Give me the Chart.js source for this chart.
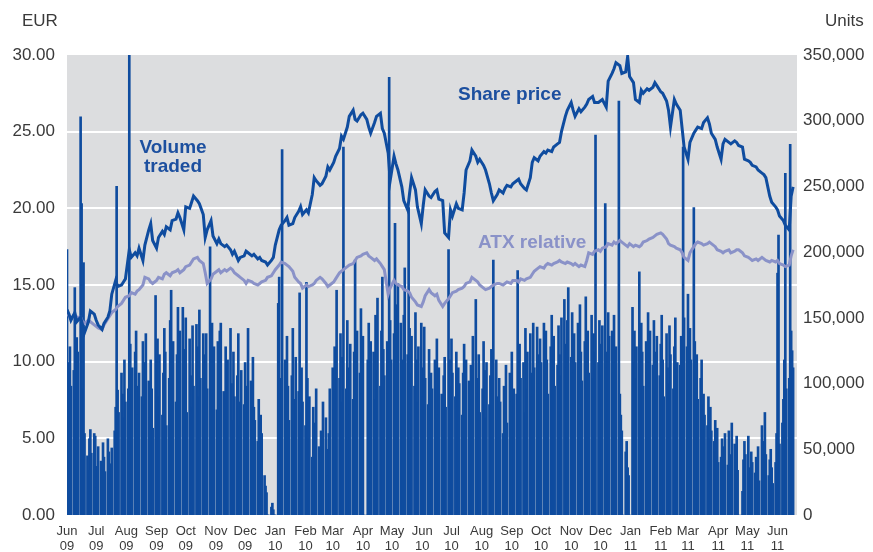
<!DOCTYPE html>
<html>
<head>
<meta charset="utf-8">
<script src="https://cdn.jsdelivr.net/npm/chart.js@4.4.1/dist/chart.umd.min.js"></script>
<style>
  body { margin: 0; background: #ffffff; }
  #wrap { width: 873px; height: 552px; }
</style>
</head>
<body>
<div id="wrap"><canvas id="priceChart" width="873" height="552"></canvas></div>
<script>
// month tick labels (month + year)
const monthTicks = ["Jun 09","Jul 09","Aug 09","Sep 09","Oct 09","Nov 09","Dec 09",
  "Jan 10","Feb 10","Mar 10","Apr 10","May 10","Jun 10","Jul 10","Aug 10","Sep 10","Oct 10","Nov 10","Dec 10",
  "Jan 11","Feb 11","Mar 11","Apr 11","May 11","Jun 11"];
const eurTicks = [0, 5, 10, 15, 20, 25, 30];
const unitTicks = [0, 50000, 100000, 150000, 200000, 250000, 300000, 350000];

// daily volume traded, thousands of units (trading days from 1 Jun 2009)
const volumeK = [
  202,116,75,128,98, 110,173,88,135,124,
  303,237,96,192,62, 45,34,58,65,47,
  62,60,21,37,52, 41,28,55,44,33,
  58,48,24,39,51, 64,82,250,95,78,
  108,92,74,118,86, 96,352,130,88,112,
  124,140,98,76,108, 90,132,116,84,138,
  102,74,118,96,66, 167,118,134,90,122,
  76,108,142,124,68, 104,148,171,96,132,
  86,122,158,104,140, 158,92,126,150,78,
  134,106,82,144,98, 145,128,90,156,104,
  138,84,122,138,96, 204,118,146,92,128,
  80,132,104,140,146, 94,76,128,88,118,
  142,100,72,124,90, 106,138,86,68,110,
  84,116,98,78,142, 102,64,120,82,72,
  56,88,48,76,62, 30,22,17,0,0,
  6,9,4,0,0, 161,181,104,92,278,
  118,84,136,98,72, 106,142,88,64,120,
  94,169,78,112,86, 68,177,104,58,90,
  44,82,36,70,96, 52,28,64,40,86,
  74,50,30,62,96, 112,80,128,94,171,
  104,138,86,120,280, 96,148,112,76,130,
  88,124,194,102,140, 108,157,92,136,0,
  0,118,146,96,132, 124,88,152,110,165,
  98,140,181,126,106, 132,92,333,148,118,
  138,222,160,104,176, 146,118,96,152,188,
  122,234,142,108,136, 98,154,118,86,128,
  146,112,90,143,104, 84,126,72,108,96,
  118,88,134,76,112, 92,64,106,120,82,
  202,118,98,134,108, 90,124,82,112,100,
  76,108,130,94,118, 102,80,114,88,136,
  164,104,92,122,78, 96,132,110,74,116,
  84,106,126,92,194, 118,90,72,104,86,
  62,98,80,114,70, 108,86,124,78,96,
  92,186,112,130,104, 116,78,142,96,124,
  138,108,90,146,112, 143,122,100,134,116,
  146,104,140,118,92, 128,152,110,136,98,
  114,144,122,106,150, 164,130,112,148,173,
  120,154,108,138,116, 146,112,160,124,102,
  132,166,116,140,108, 152,104,138,124,289,
  116,148,130,106,144, 237,124,112,154,136,
  140,108,152,116,128, 315,92,76,64,0,
  48,56,36,30,0, 158,116,140,104,128,
  185,112,146,124,98, 132,108,154,116,140,
  114,148,124,96,136, 106,130,152,118,90,
  138,112,100,144,122, 96,128,150,108,116,
  114,136,98,280,150, 128,168,106,142,118,
  234,132,96,122,88, 104,118,84,92,76,
  68,90,58,82,64, 56,72,48,66,40,
  44,58,36,52,62, 38,64,46,30,70,
  54,40,60,34,0, 0,18,42,56,46,
  60,36,28,48,40, 32,44,38,52,26,
  68,56,34,78,46, 30,42,50,36,24,
  40,62,184,213,54, 70,88,118,260,96,
  104,282,140,125,112
];

// share price, EUR (every second trading day)
const sharePrice = [
  13.4,13.1,12.7,13.2,12.6,12.9,12.4,11.9,12.6,13.3,
  13.1,12.7,12.4,12.1,12.5,12.9,13.3,14.4,15.3,14.9,
  15.0,15.2,15.4,17.3,16.8,17.1,16.9,17.4,16.6,17.6,
  18.6,19.0,17.9,17.4,18.1,18.5,18.3,18.8,18.6,19.2,
  19.3,19.7,19.4,18.6,20.1,20.0,20.4,20.8,20.5,20.3,
  19.6,18.1,18.6,19.2,18.2,17.7,18.0,17.7,17.5,17.6,
  17.3,17.0,17.2,16.6,16.8,16.9,17.2,17.1,16.9,17.0,
  16.7,16.8,16.6,16.5,16.3,16.6,16.8,17.6,18.6,18.9,
  19.2,19.4,18.9,19.0,19.4,19.8,20.1,19.6,19.9,19.7,
  20.9,22.0,21.8,21.5,21.6,22.1,22.7,22.5,23.0,23.4,
  23.9,24.7,24.5,25.3,26.0,26.4,25.8,25.7,26.1,26.2,
  25.8,25.3,24.9,25.6,26.0,26.2,25.2,24.9,23.6,21.8,
  23.4,22.9,22.5,21.4,20.5,19.9,21.0,22.0,21.2,20.1,
  19.0,20.2,21.2,20.8,20.7,21.1,21.2,20.6,20.5,18.4,
  18.1,19.9,19.5,20.3,20.0,19.9,21.0,22.5,23.1,23.8,
  23.4,23.0,23.2,22.8,22.5,21.6,21.0,20.5,20.9,21.2,
  21.0,21.3,21.5,21.4,21.6,21.8,21.9,21.6,21.3,21.2,
  22.0,23.0,23.3,23.1,23.4,23.7,23.6,23.8,23.7,24.0,
  24.2,24.3,25.0,26.0,26.4,26.9,26.4,26.0,26.5,26.3,
  26.6,26.8,27.1,27.3,26.9,26.9,27.0,27.1,26.6,28.3,
  28.8,29.1,29.5,29.3,28.8,28.9,29.9,28.6,28.2,27.1,
  26.9,27.7,27.5,27.8,27.7,27.9,28.2,28.0,27.6,27.5,
  27.0,26.4,25.3,27.1,26.8,26.4,25.2,24.0,23.2,24.3,
  24.9,25.1,25.3,25.2,25.6,25.9,25.5,24.9,24.5,24.0,
  23.2,24.2,24.5,24.3,24.2,24.4,24.3,24.1,24.0,23.2,
  23.1,23.0,22.8,22.7,22.5,22.3,22.2,22.0,20.8,20.4,
  20.1,19.9,19.5,19.2,18.9,18.6,20.8,21.4
];

// ATX rebased to the share price, EUR (every second trading day)
const atxRelative = [
  13.2,13.0,12.8,13.1,12.9,12.9,12.6,12.5,12.7,12.6,
  12.4,12.3,12.2,12.1,12.4,12.8,13.0,13.2,13.4,13.6,
  13.8,14.0,14.2,14.3,14.5,14.4,14.6,14.7,15.0,15.5,
  15.4,15.2,15.1,15.3,15.5,15.4,15.7,15.8,15.6,15.8,
  15.9,16.0,15.8,16.0,16.2,16.3,16.5,16.7,16.8,16.6,
  16.4,15.8,15.1,15.4,15.7,15.9,16.0,15.8,16.0,15.9,
  16.1,16.0,15.8,15.6,15.5,15.3,15.1,15.3,15.2,15.1,
  15.0,15.1,15.2,15.3,15.5,15.6,15.8,16.0,16.3,16.5,
  16.4,16.3,16.2,15.9,15.5,15.2,15.1,14.8,15.0,14.9,
  15.0,15.1,15.3,15.5,15.4,15.1,14.9,15.0,15.2,15.4,
  15.8,15.9,16.0,16.2,16.3,16.4,16.6,16.8,16.9,17.0,
  17.1,16.9,16.8,16.6,16.7,16.4,16.2,16.0,14.4,14.8,
  15.3,15.1,15.0,14.9,14.7,14.6,14.5,14.2,13.9,13.7,
  13.6,13.9,14.3,14.7,14.5,14.3,14.4,14.0,13.6,13.8,
  14.1,14.3,14.5,14.6,14.7,14.8,14.9,15.1,15.2,15.5,
  15.3,15.2,15.0,14.8,14.7,14.8,14.9,15.0,15.1,15.1,
  15.0,15.1,15.2,15.1,15.3,15.3,15.2,15.4,15.3,15.4,
  15.5,15.7,15.9,16.1,16.2,16.1,16.3,16.4,16.3,16.4,
  16.5,16.6,16.5,16.4,16.5,16.4,16.3,16.4,16.2,16.3,
  16.2,16.6,17.1,17.0,17.2,17.3,17.2,17.4,17.5,17.7,
  17.6,17.8,17.7,17.9,17.8,17.6,17.5,17.7,17.5,17.6,
  17.5,17.6,17.8,17.9,18.0,18.1,18.2,18.3,18.4,18.3,
  18.0,17.7,17.6,17.5,17.4,17.3,17.1,16.8,16.6,17.1,
  17.5,17.7,17.8,17.7,17.6,17.7,17.8,17.7,17.5,17.3,
  17.2,17.1,17.2,17.3,17.1,17.2,17.3,17.3,17.1,16.9,
  16.8,16.7,16.6,16.7,16.6,16.8,16.7,16.6,16.5,16.6,
  16.5,16.6,16.4,16.3,16.2,16.3,16.9,17.3
];

// trading day index -> calendar day since 1 Jun 2009 (a Monday)
function tradeDay(t) {
  return 7 * Math.floor(t / 5) + (t % 5);
}
const dayMs = 86400000;
const start = Date.UTC(2009, 5, 1);
const monthDays = monthTicks.map((m, k) => (Date.UTC(2009, 5 + k, 1) - start) / dayMs);

const darkBlue = "#0f4c9f";
const lilac = "#8a92c8";
const textGrey = "#3a3a3a";

// grey plot background + free text
const decorPlugin = {
  id: "decor",
  beforeDraw(chart) {
    const a = chart.chartArea;
    const ctx = chart.ctx;
    ctx.save();
    ctx.fillStyle = "#dcdddf";
    ctx.fillRect(a.left, a.top, a.right - a.left, a.bottom - a.top);
    ctx.restore();
  },
  afterDraw(chart) {
    const ctx = chart.ctx;
    ctx.save();
    ctx.font = "17px 'Liberation Sans', Arial, sans-serif";
    ctx.fillStyle = textGrey;
    ctx.textBaseline = "middle";
    ctx.textAlign = "left";
    ctx.fillText("EUR", 22, 21);
    ctx.fillText("Units", 825, 21);

    ctx.font = "bold 19px 'Liberation Sans', Arial, sans-serif";
    ctx.fillStyle = "#1c4f9f";
    ctx.textAlign = "center";
    ctx.fillText("Volume", 173, 148);
    ctx.fillText("traded", 173, 167);
    ctx.textAlign = "left";
    ctx.fillText("Share price", 458, 95);
    ctx.fillStyle = lilac;
    ctx.fillText("ATX relative", 478, 243);
    ctx.restore();
  }
};

const ctx = document.getElementById("priceChart").getContext("2d");
const chart = new Chart(ctx, {
  type: "bar",
  data: {
    datasets: [
      {
        type: "line",
        label: "Share price",
        data: sharePrice.map((v, i) => ({ x: tradeDay(2 * i), y: v })),
        yAxisID: "y",
        borderColor: darkBlue,
        borderWidth: 3,
        pointRadius: 0,
        tension: 0,
        order: 1
      },
      {
        type: "line",
        label: "ATX relative",
        data: atxRelative.map((v, i) => ({ x: tradeDay(2 * i), y: v })),
        yAxisID: "y",
        borderColor: lilac,
        borderWidth: 3,
        pointRadius: 0,
        tension: 0,
        order: 2
      },
      {
        type: "bar",
        label: "Volume traded",
        data: volumeK.map((v, t) => ({ x: tradeDay(t), y: v * 1000 })),
        yAxisID: "y2",
        backgroundColor: darkBlue,
        barThickness: 2,
        grouped: false,
        order: 3
      }
    ]
  },
  options: {
    responsive: false,
    animation: false,
    layout: { padding: { top: 55, left: 0, right: 0, bottom: 0 } },
    plugins: {
      legend: { display: false },
      tooltip: { enabled: false }
    },
    scales: {
      x: {
        type: "linear",
        offset: false,
        min: 0,
        max: 750,
        afterBuildTicks(scale) {
          scale.ticks = monthDays.map(v => ({ value: v }));
        },
        afterFit(scale) { scale.height = 37; },
        grid: { display: false, offset: false },
        border: { display: false },
        ticks: {
          autoSkip: false,
          maxRotation: 0,
          padding: 1,
          color: textGrey,
          font: { family: "'Liberation Sans', Arial, sans-serif", size: 13, lineHeight: 1.15 },
          callback: (v, i) => monthTicks[i].split(" ")
        }
      },
      y: {
        position: "left",
        min: 0,
        max: 30,
        afterBuildTicks(scale) {
          scale.ticks = eurTicks.map(v => ({ value: v }));
        },
        afterFit(scale) { scale.width = 67; },
        border: { display: false },
        grid: {
          drawTicks: false,
          lineWidth: 2,
          color: c => (c.tick.value > 0 && c.tick.value < 30) ? "#ffffff" : "rgba(0,0,0,0)"
        },
        ticks: {
          padding: 12,
          color: textGrey,
          font: { family: "'Liberation Sans', Arial, sans-serif", size: 17 },
          callback: v => v.toFixed(2)
        }
      },
      y2: {
        position: "right",
        min: 0,
        max: 350000,
        afterBuildTicks(scale) {
          scale.ticks = unitTicks.map(v => ({ value: v }));
        },
        afterFit(scale) { scale.width = 76; },
        border: { display: false },
        grid: { display: false, drawTicks: false },
        ticks: {
          padding: 6,
          color: textGrey,
          font: { family: "'Liberation Sans', Arial, sans-serif", size: 17 },
          callback: v => v.toLocaleString("en-US")
        }
      }
    }
  },
  plugins: [decorPlugin]
});
</script>
</body>
</html>
